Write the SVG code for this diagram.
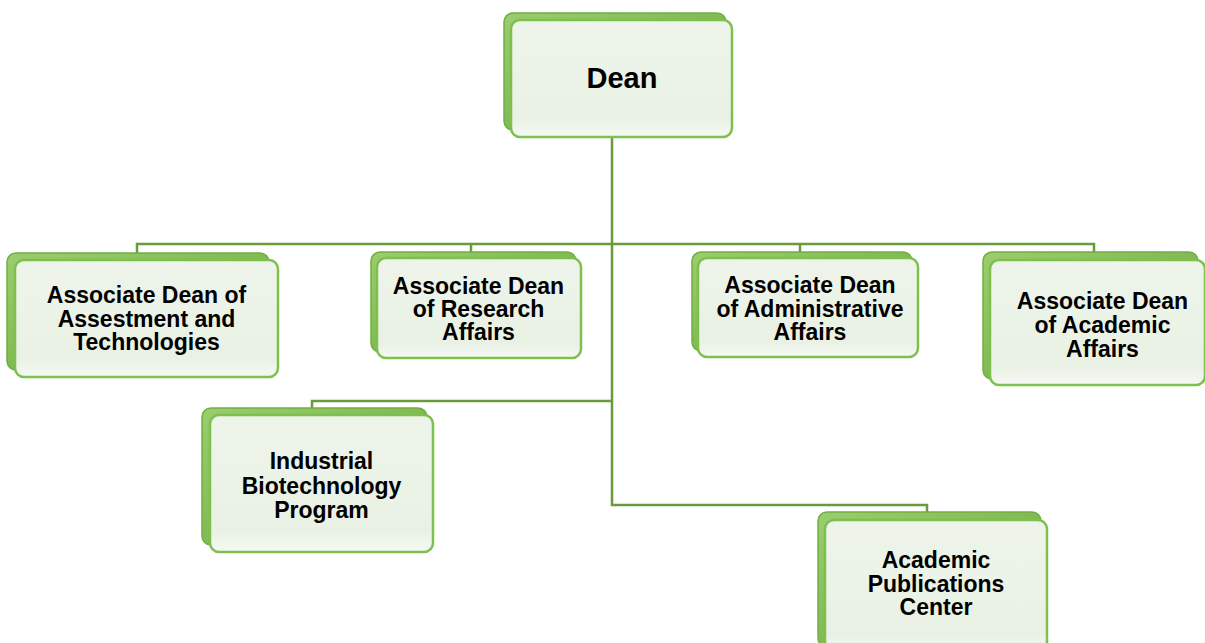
<svg xmlns="http://www.w3.org/2000/svg" width="1205" height="643" viewBox="0 0 1205 643">
<defs>
<linearGradient id="gBack" x1="0" y1="0" x2="1" y2="1">
<stop offset="0" stop-color="#9ccc6e"/>
<stop offset="1" stop-color="#6aa83a"/>
</linearGradient>
<linearGradient id="gFront" x1="0" y1="0" x2="0" y2="1">
<stop offset="0" stop-color="#eef4ea"/>
<stop offset="0.85" stop-color="#e9f1e4"/>
<stop offset="1" stop-color="#f6f9f4"/>
</linearGradient>
</defs>
<style>
.back{fill:url(#gBack);stroke:#6fb040;stroke-width:1.5}
.front{fill:url(#gFront);stroke:#7cc04e;stroke-width:2.5}
.conn{fill:none;stroke:#6a9a3c;stroke-width:2.5}
text{font-family:"Liberation Sans",Arial,sans-serif;font-weight:bold;fill:#000;text-anchor:middle;font-size:23px}
.big{font-size:29px}
</style>
<rect width="1205" height="643" fill="#fff"/>
<g id="connectors">
<path class="conn" d="M612,137 V505 H927 V513"/>
<path class="conn" d="M137,253 V244 H1094 V253"/>
<path class="conn" d="M471,244 V252"/>
<path class="conn" d="M800,244 V252"/>
<path class="conn" d="M612,401 H312 V408"/>
</g>
<g id="dean">
<rect class="back" x="504" y="13" width="222" height="117" rx="9"/>
<rect class="front" x="511" y="20" width="221" height="117" rx="9"/>
<text class="big" x="622" y="88">Dean</text>
</g>
<g id="assessment">
<rect class="back" x="7" y="253" width="262" height="117" rx="9"/>
<rect class="front" x="15" y="260" width="263" height="117" rx="9"/>
<text x="146.5" y="303">Associate Dean of</text>
<text x="146.5" y="327">Assestment and</text>
<text x="146.5" y="350">Technologies</text>
</g>
<g id="research">
<rect class="back" x="371" y="252" width="205" height="100" rx="9"/>
<rect class="front" x="377" y="258" width="204" height="100" rx="9"/>
<text x="478.5" y="294">Associate Dean</text>
<text x="478.5" y="317">of Research</text>
<text x="478.5" y="340">Affairs</text>
</g>
<g id="administrative">
<rect class="back" x="692" y="252" width="220" height="99" rx="9"/>
<rect class="front" x="698" y="258" width="220" height="99" rx="9"/>
<text x="810" y="293">Associate Dean</text>
<text x="810" y="317">of Administrative</text>
<text x="810" y="340">Affairs</text>
</g>
<g id="academic">
<rect class="back" x="983" y="252" width="215" height="127" rx="9"/>
<rect class="front" x="990" y="260" width="215" height="125" rx="9"/>
<text x="1102.5" y="309">Associate Dean</text>
<text x="1102.5" y="333">of Academic</text>
<text x="1102.5" y="357">Affairs</text>
</g>
<g id="industrial">
<rect class="back" x="202" y="408" width="225" height="137" rx="9"/>
<rect class="front" x="210" y="415" width="223" height="137" rx="9"/>
<text x="321.5" y="469">Industrial</text>
<text x="321.5" y="494">Biotechnology</text>
<text x="321.5" y="518">Program</text>
</g>
<g id="publications">
<rect class="back" x="818" y="512" width="223" height="135" rx="9"/>
<rect class="front" x="825" y="520" width="222" height="135" rx="9"/>
<text x="936" y="568">Academic</text>
<text x="936" y="592">Publications</text>
<text x="936" y="615">Center</text>
</g>
</svg>
